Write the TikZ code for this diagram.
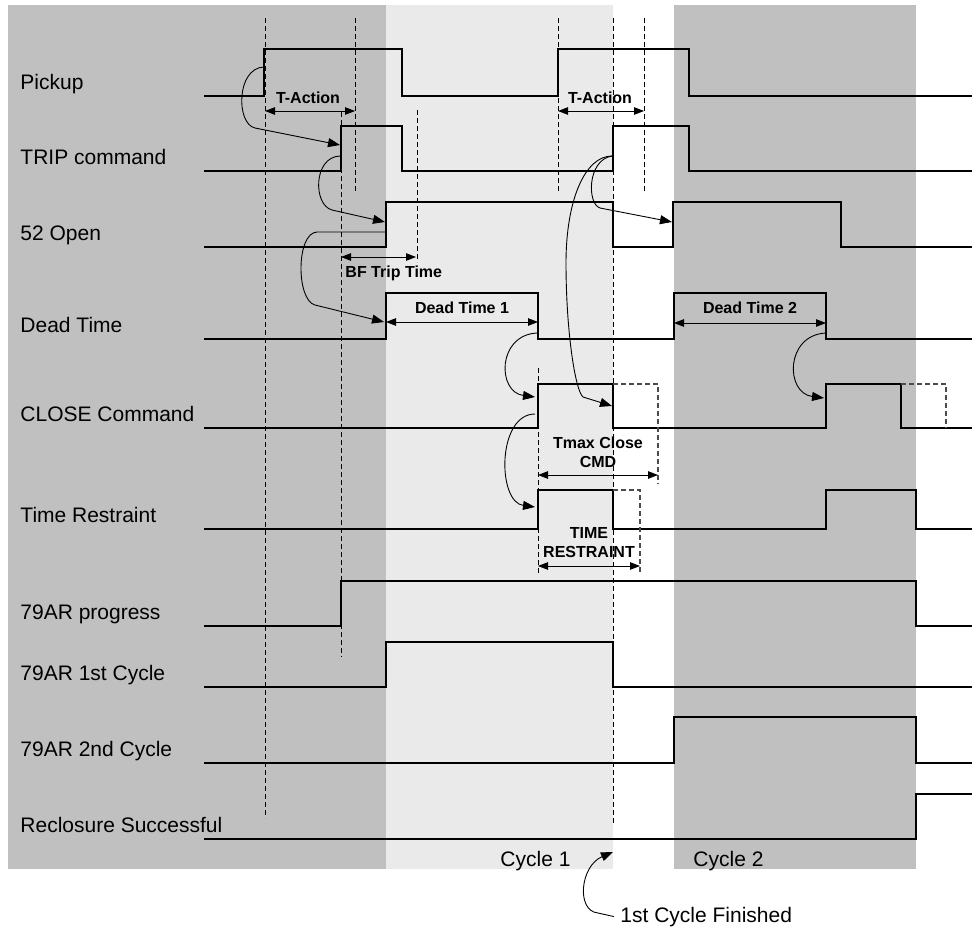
\documentclass[tikz,border=0pt]{standalone}
\usepackage{fontspec}
\setmainfont{Liberation Sans}
\usetikzlibrary{arrows.meta}
\definecolor{bgdark}{HTML}{C0C0C0}
\definecolor{bglight}{HTML}{EAEAEA}

\begin{document}
\begin{tikzpicture}[x=1pt, y=-1pt, line width=0.9pt,
    sigline/.style={line width=2.8pt, line join=miter},
    guideline/.style={line width=1pt, dash pattern=on 5pt off 3pt},
    extline/.style={draw=black!70, line width=1.3pt, dash pattern=on 5pt off 3pt},
    causearrow/.style={line width=0.9pt, -{Triangle[length=12pt,width=9pt]}},
    dimarrow/.style={line width=0.9pt, {Triangle[length=10pt,width=7.5pt]}-{Triangle[length=10pt,width=7.5pt]}},
    siglabel/.style={font=\fontsize{21}{25}\selectfont, anchor=base west, inner sep=0pt},
    dimlabel/.style={font=\bfseries\fontsize{16}{19}\selectfont, anchor=base, inner sep=0pt}]
    \useasboundingbox (0,0) rectangle (972,929);
    % cycle bands
    \fill[bgdark] (8,5) rectangle (386,869);
    \fill[bglight] (386,5) rectangle (613,869);
    \fill[bgdark] (674,5) rectangle (916,869);

    % signal names
    \foreach \y/\txt [count=\i] in {96/Pickup, 171/TRIP command, 247/52 Open,
        339/Dead Time, 428/CLOSE Command, 529/Time Restraint, 626/79AR progress,
        687/79AR 1st Cycle, 763/79AR 2nd Cycle, 839/Reclosure Successful}
      \node[siglabel] (name\i) at (20,\y-7) {\txt};

    % time markers
    \draw[guideline] (265,18) -- (265,818);
    \draw[guideline] (355,18) -- (355,192);
    \draw[guideline] (341,112) -- (341,657);
    \draw[guideline] (417,110) -- (417,262);
    \draw[guideline] (558,18) -- (558,192);
    \draw[guideline] (644,18) -- (644,192);
    \draw[guideline] (613,18) -- (613,825);
    \draw[guideline] (538,368) -- (538,573);

    % waveforms
    \draw[sigline] (204,96) -- (264,96) -- (264,49) -- (402,49) -- (402,96) -- (558,96)
      -- (558,49) -- (689,49) -- (689,96) -- (972,96);
    \draw[sigline] (204,171) -- (341,171) -- (341,126) -- (402,126) -- (402,171) -- (613,171)
      -- (613,126) -- (689,126) -- (689,171) -- (972,171);
    \draw[sigline] (204,247) -- (386,247) -- (386,202) -- (613,202) -- (613,247) -- (673,247)
      -- (673,202) -- (841,202) -- (841,247) -- (972,247);
    \draw[sigline] (204,339) -- (386,339) -- (386,293) -- (538,293) -- (538,339) -- (674,339)
      -- (674,293) -- (826,293) -- (826,339) -- (972,339);
    \draw[sigline] (204,428) -- (538,428) -- (538,384) -- (613,384) -- (613,428) -- (826,428)
      -- (826,384) -- (901,384) -- (901,428) -- (972,428);
    \draw[sigline] (204,529) -- (538,529) -- (538,490) -- (613,490) -- (613,529) -- (826,529)
      -- (826,490) -- (916,490) -- (916,529) -- (972,529);
    \draw[sigline] (204,626) -- (341,626) -- (341,581) -- (916,581) -- (916,626) -- (972,626);
    \draw[sigline] (204,687) -- (386,687) -- (386,642) -- (613,642) -- (613,687) -- (972,687);
    \draw[sigline] (204,763) -- (674,763) -- (674,717) -- (916,717) -- (916,763) -- (972,763);
    \draw[sigline] (204,839) -- (916,839) -- (916,794) -- (972,794);

    % maximum pulse lengths
    \draw[extline] (613,384) -- (658,384) -- (658,484);
    \draw[extline] (901,384) -- (946,384) -- (946,428);
    \draw[extline] (613,490) -- (640,490) -- (640,573);

    % durations
    \draw[dimarrow] (265,111) -- (355,111);
    \node[dimlabel] (tact1) at (308,103) {T-Action};
    \draw[dimarrow] (558,111) -- (644,111);
    \node[dimlabel] (tact2) at (600,103) {T-Action};
    \draw[dimarrow] (341,257) -- (416,257);
    \node[dimlabel, anchor=base west] (bftrip) at (345,277) {BF Trip Time};
    \draw[dimarrow] (386,322) -- (538,322);
    \node[dimlabel] (dead1) at (462,313) {Dead Time 1};
    \draw[dimarrow] (674,323) -- (826,323);
    \node[dimlabel] (dead2) at (750,313) {Dead Time 2};
    \draw[dimarrow] (538,475) -- (658,475);
    \node[dimlabel] (tmaxA) at (598,448) {Tmax Close};
    \node[dimlabel] (tmaxB) at (598,467) {CMD};
    \draw[dimarrow] (538,566) -- (640,566);
    \node[dimlabel] (restrA) at (589,538) {TIME};
    \node[dimlabel] (restrB) at (589,557) {RESTRAINT};

    % edge points for the causal arrows
    \coordinate (pickRise1) at (264,67);
    \coordinate (tripRise1) at (340,145);
    \coordinate (tripFoot1) at (340,156);
    \coordinate (openRise1) at (385,222);
    \coordinate (openFoot1) at (385,232);
    \coordinate (deadRise1) at (384,322);
    \coordinate (deadFall1) at (537,333);
    \coordinate (closeRise1) at (535,397);
    \coordinate (closeFoot1) at (535,414);
    \coordinate (restrRise1) at (535,507);
    \coordinate (tripRise2) at (612,156);
    \coordinate (closeFall1) at (612,406);
    \coordinate (openRise2) at (672,222);
    \coordinate (deadFall2) at (826,333);
    \coordinate (closeRise2) at (824,398);
    \coordinate (cycleEnd) at (613,852);

    \draw[causearrow] (pickRise1) .. controls (236,68) and (236,124) .. (255,128) -- (tripRise1);
    \draw[causearrow] (tripFoot1) .. controls (313,157) and (313,205) .. (332,210) -- (openRise1);
    \draw[causearrow] (openFoot1) -- (317,232) .. controls (296,233) and (296,300) .. (315,305)
      -- (deadRise1);
    \draw[causearrow] (deadFall1) .. controls (497,335) and (497,392) .. (closeRise1);
    \draw[causearrow] (closeFoot1) .. controls (497,414) and (497,502) .. (restrRise1);
    \draw[causearrow] (tripRise2) .. controls (585,156) and (566,200) .. (566,263)
      .. controls (566,330) and (575,390) .. (583,397) -- (closeFall1);
    \draw[causearrow] (tripRise2) .. controls (587,160) and (587,204) .. (600,208) -- (openRise2);
    \draw[causearrow] (deadFall2) .. controls (785,335) and (785,393) .. (closeRise2);

    % cycle names
    \node[siglabel] (cycle1) at (500,866) {Cycle 1};
    \node[siglabel] (cycle2) at (693,866) {Cycle 2};
    \node[siglabel] (finished) at (620,922) {1st Cycle Finished};
    \draw[causearrow] ([xshift=-6pt]finished.west) -- (598,913)
      .. controls (576,911) and (580,866) .. (cycleEnd);
  \end{tikzpicture}
\end{document}
